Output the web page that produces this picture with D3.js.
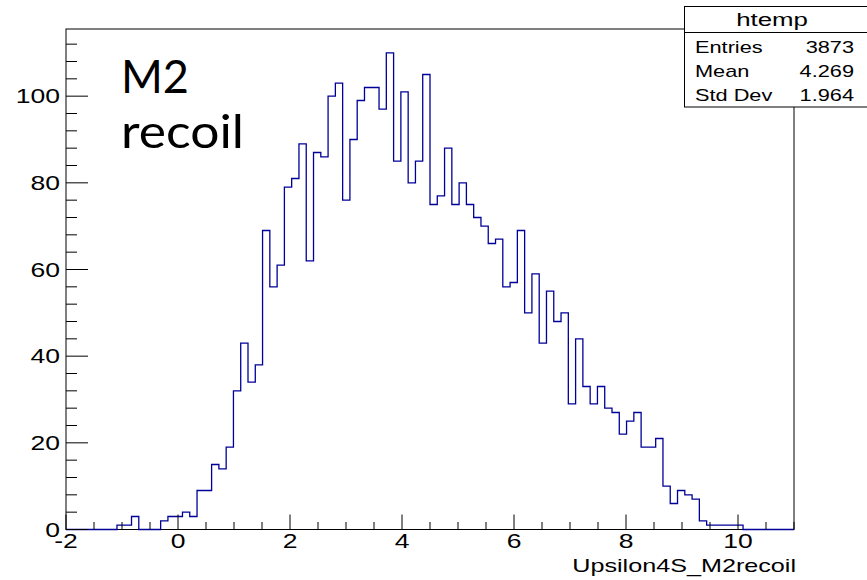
<!DOCTYPE html>
<html>
<head>
<meta charset="utf-8">
<script src="https://cdn.jsdelivr.net/npm/d3@7"></script>
<style>
  html, body { margin: 0; padding: 0; background: #fff; }
  svg { display: block; }
</style>
</head>
<body>
<svg id="chart" width="867" height="580"></svg>
<script>
// ---- data ----
const binLow = -2, binHigh = 11, nBins = 100;
const counts = [
  0, 0, 0, 0, 0, 0, 0, 1, 1, 3,
  0, 0, 0, 2, 3, 3, 4, 3, 9, 9,
  15, 14, 19, 32, 43, 34, 38, 69, 56, 61,
  79, 81, 89, 62, 87, 86, 100, 103, 76, 90,
  99, 102, 102, 97, 110, 85, 101, 80, 85, 105,
  75, 77, 88, 75, 80, 75, 72, 70, 66, 67,
  56, 57, 69, 50, 59, 43, 55, 48, 50, 29,
  44, 33, 29, 33, 28, 27, 22, 25, 27, 19,
  19, 21, 10, 6, 9, 8, 7, 2, 1, 1,
  1, 1, 1, 0, 0, 0, 0, 0, 0, 0
];
const xTickValues = [-2, 0, 2, 4, 6, 8, 10];
const xTickLabels = ["-2", "0", "2", "4", "6", "8", "10"];
const yTickValues = [0, 20, 40, 60, 80, 100];
const yTickLabels = ["0", "20", "40", "60", "80", "100"];
const statsTitle = "htemp";
const statsNames = ["Entries", "Mean", "Std Dev"];
const statsValues = ["3873", "4.269", "1.964"];
const xTitle = "Upsilon4S_M2recoil";
const annotation = ["M2", "recoil"];
const yMax = 115.5;

// ---- layout ----
const FONT = "'Liberation Sans', Arial, Helvetica, sans-serif";
const SX = 1.36; // horizontal stretch of the original text
const frame = { left: 66, right: 794, top: 29, bottom: 529.5 };

const svg = d3.select("#chart");
const x = d3.scaleLinear().domain([binLow, binHigh]).range([frame.left, frame.right]);
const y = d3.scaleLinear().domain([0, yMax]).range([frame.bottom, frame.top]);

function txt(parent, s, px, py, size, anchor, sx) {
  return parent.append("text")
    .attr("transform", `translate(${px},${py}) scale(${sx},1)`)
    .attr("text-anchor", anchor)
    .attr("font-size", size)
    .attr("font-family", FONT)
    .attr("fill", "#000")
    .text(s);
}

// frame
svg.append("rect")
  .attr("x", frame.left).attr("y", frame.top)
  .attr("width", frame.right - frame.left).attr("height", frame.bottom - frame.top)
  .attr("fill", "none").attr("stroke", "#000").attr("stroke-width", 1);

// histogram
const binW = (binHigh - binLow) / nBins;
const pts = counts.map((c, i) => [binLow + i * binW, c]);
pts.push([binHigh, counts[counts.length - 1]]);
const line = d3.line().x(d => x(d[0])).y(d => y(d[1])).curve(d3.curveStepAfter);
svg.append("path")
  .attr("d", line(pts))
  .attr("fill", "none")
  .attr("stroke", "#000099")
  .attr("stroke-width", 1.3);

// x axis ticks (inside, upward)
const gx = svg.append("g");
const xMinor = d3.range(-2, 11.001, 0.5);
xMinor.forEach(v => {
  const major = Math.abs(v / 2 - Math.round(v / 2)) < 1e-6;
  gx.append("line")
    .attr("x1", x(v)).attr("x2", x(v))
    .attr("y1", frame.bottom).attr("y2", frame.bottom - (major ? 15 : 7.5))
    .attr("stroke", "#000").attr("stroke-width", 1);
});
xTickValues.forEach((v, i) => {
  txt(gx, xTickLabels[i], x(v), 548, 19.5, "middle", SX);
});
txt(gx, xTitle, 796, 572, 18.5, "end", SX);

// y axis ticks (inside, rightward)
const gy = svg.append("g");
const yMinor = d3.range(0, 113, 4);
yMinor.forEach(v => {
  const major = v % 20 === 0;
  gy.append("line")
    .attr("x1", frame.left).attr("x2", frame.left + (major ? 22 : 11))
    .attr("y1", y(v)).attr("y2", y(v))
    .attr("stroke", "#000").attr("stroke-width", 1);
});
yTickValues.forEach((v, i) => {
  txt(gy, yTickLabels[i], 60, y(v) + 7, 19.5, "end", SX);
});

// annotation
annotation.forEach((s, i) => {
  svg.append("text")
    .attr("x", 121).attr("y", [93, 148][i])
    .attr("font-size", 47)
    .attr("font-family", "Lato, 'Open Sans', sans-serif")
    .attr("textLength", [68, 123][i])
    .attr("lengthAdjust", "spacingAndGlyphs")
    .text(s);
});

// stats box
const sb = svg.append("g");
sb.append("rect")
  .attr("x", 684.5).attr("y", 6.5).attr("width", 200).attr("height", 100.5)
  .attr("fill", "#fff").attr("stroke", "#000").attr("stroke-width", 1);
sb.append("line")
  .attr("x1", 684.5).attr("x2", 867).attr("y1", 32.5).attr("y2", 32.5)
  .attr("stroke", "#000").attr("stroke-width", 1);
txt(sb, statsTitle, 772, 26, 19, "middle", SX);
const rowY = [53, 77, 100.5];
statsNames.forEach((s, i) => {
  txt(sb, s, 695, rowY[i], 16, "start", SX);
  txt(sb, statsValues[i], 854, rowY[i], 16, "end", SX);
});
</script>
</body>
</html>
